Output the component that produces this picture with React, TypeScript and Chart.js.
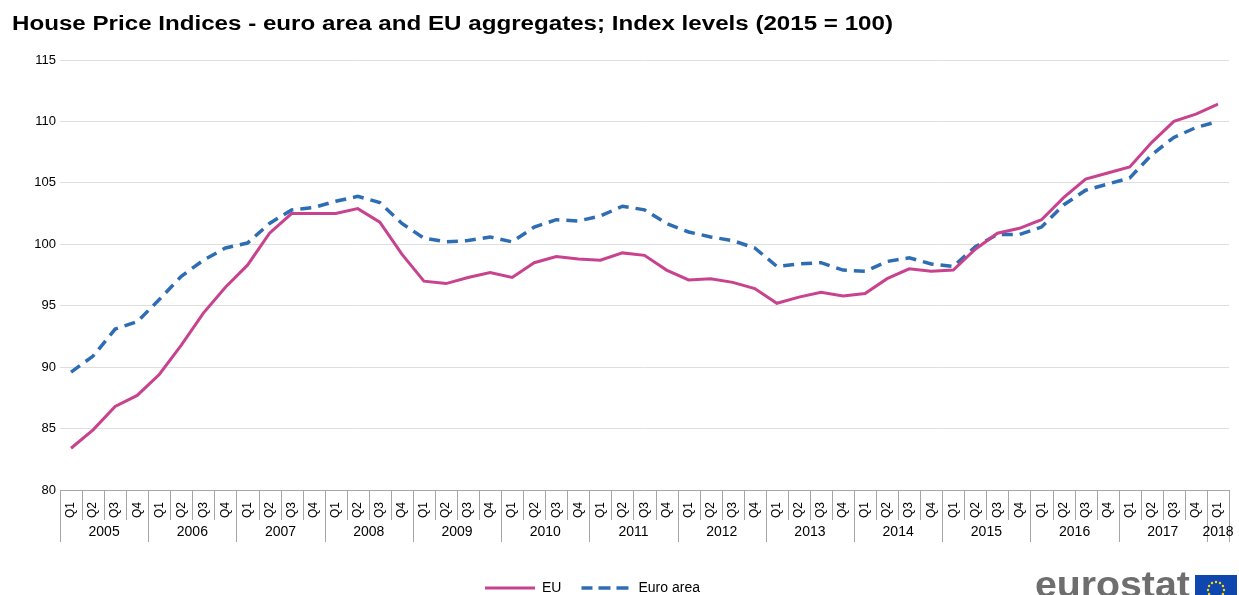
import React, { useEffect, useRef } from "react";
import { Chart, registerables } from "chart.js";

Chart.register(...registerables);

const years = ["2005", "2006", "2007", "2008", "2009", "2010", "2011", "2012", "2013", "2014", "2015", "2016", "2017", "2018"];
const quarters = ["Q1", "Q2", "Q3", "Q4"];
const categories: string[] = years.flatMap((y) => quarters.map((q) => `${y} ${q}`)).slice(0, 53);

const euValues = [
  83.4, 84.9, 86.8, 87.7,
  89.4, 91.8, 94.4, 96.5,
  98.3, 100.9, 102.5, 102.5,
  102.5, 102.9, 101.8, 99.2,
  97.0, 96.8, 97.3, 97.7,
  97.3, 98.5, 99.0, 98.8,
  98.7, 99.3, 99.1, 97.9,
  97.1, 97.2, 96.9, 96.4,
  95.2, 95.7, 96.1, 95.8,
  96.0, 97.2, 98.0, 97.8,
  97.9, 99.6, 100.9, 101.3,
  102.0, 103.8, 105.3, 105.8,
  106.3, 108.3, 110.0, 110.6,
  111.4,
];

const euroAreaValues = [
  89.6, 90.9, 93.1, 93.7,
  95.5, 97.4, 98.7, 99.7,
  100.1, 101.7, 102.8, 103.0,
  103.5, 103.9, 103.4, 101.7,
  100.5, 100.2, 100.3, 100.6,
  100.2, 101.4, 102.0, 101.9,
  102.3, 103.1, 102.8, 101.7,
  101.0, 100.6, 100.3, 99.7,
  98.2, 98.4, 98.5, 97.9,
  97.8, 98.6, 98.9, 98.4,
  98.2, 99.8, 100.8, 100.8,
  101.4, 103.2, 104.4, 104.9,
  105.4, 107.3, 108.7, 109.5,
  110.0,
];

const yMin = 80;
const yMax = 115;
const yStep = 5;

const titleText = "House Price Indices - euro area and EU aggregates; Index levels (2015 = 100)";

const FONT = "'Liberation Sans', Arial, sans-serif";

const axisBoxes = {
  id: "axisBoxes",
  afterLayout(chart: any) {
    const lg = chart.legend;
    if (lg) {
      lg.left -= 28;
      lg.right -= 28;
    }
  },
  afterDraw(chart: any) {
    const { ctx, chartArea, scales } = chart;
    const x = scales.x;
    const labels = chart.data.labels as string[];
    const n = labels.length;
    const step = x.getPixelForValue(1) - x.getPixelForValue(0);
    const top = chartArea.bottom;
    const qBottom = top + 30;
    const yBottom = top + 52;
    const edge = (i: number) => x.getPixelForValue(i) - step / 2;
    ctx.save();

    // title (slightly wide lettering like the reference)
    ctx.fillStyle = "#000";
    ctx.font = `bold 20px ${FONT}`;
    ctx.textAlign = "left";
    ctx.textBaseline = "middle";
    const tw = ctx.measureText(titleText).width;
    ctx.save();
    ctx.translate(12, 24);
    ctx.scale(881 / tw, 1);
    ctx.fillText(titleText, 0, 0);
    ctx.restore();

    ctx.strokeStyle = "#a6a6a6";
    ctx.lineWidth = 1;
    ctx.beginPath();
    ctx.moveTo(edge(0), Math.round(top) + 0.5);
    ctx.lineTo(edge(n), Math.round(top) + 0.5);
    for (let i = 0; i <= n; i++) {
      const px = Math.round(edge(i)) + 0.5;
      const isYear = i === 0 || i === n || labels[i].slice(0, 4) !== labels[i - 1].slice(0, 4);
      ctx.moveTo(px, top);
      ctx.lineTo(px, isYear ? yBottom : qBottom);
    }
    ctx.stroke();

    // year labels
    ctx.fillStyle = "#000";
    ctx.font = `14px ${FONT}`;
    ctx.textAlign = "center";
    ctx.textBaseline = "middle";
    let start = 0;
    for (let i = 1; i <= n; i++) {
      if (i === n || labels[i].slice(0, 4) !== labels[start].slice(0, 4)) {
        const cx = (x.getPixelForValue(start) + x.getPixelForValue(i - 1)) / 2;
        ctx.fillText(labels[start].slice(0, 4), cx, top + 42);
        start = i;
      }
    }

    // eurostat logo
    ctx.save();
    ctx.fillStyle = "#6e6e6e";
    ctx.font = `bold 36px ${FONT}`;
    ctx.textAlign = "left";
    ctx.textBaseline = "alphabetic";
    ctx.translate(1035, 597);
    ctx.scale(1.09, 1);
    ctx.fillText("eurostat", 0, 0);
    ctx.restore();
    ctx.fillStyle = "#0f47af";
    ctx.fillRect(1195, 575, 42, 30);
    ctx.fillStyle = "#ffdd00";
    for (let k = 0; k < 12; k++) {
      const a = (k / 12) * Math.PI * 2;
      ctx.beginPath();
      ctx.arc(1216 + Math.cos(a) * 8, 590 + Math.sin(a) * 8, 1.2, 0, Math.PI * 2);
      ctx.fill();
    }
    ctx.restore();
  },
};

export default function App() {
  const ref = useRef<HTMLCanvasElement | null>(null);
  useEffect(() => {
    if (!ref.current) return;
    const chart = new Chart(ref.current, {
      type: "line",
      data: {
        labels: categories,
        datasets: [
          {
            label: "EU",
            data: euValues,
            borderColor: "#c8428e",
            backgroundColor: "#c8428e",
            borderWidth: 3,
            pointRadius: 0,
            tension: 0,
            fill: false,
          },
          {
            label: "Euro area",
            data: euroAreaValues,
            borderColor: "#2e6db4",
            backgroundColor: "#2e6db4",
            borderWidth: 3.5,
            borderDash: [11, 7],
            pointRadius: 0,
            tension: 0,
            fill: false,
          },
        ],
      },
      options: {
        responsive: false,
        animation: false,
        layout: { padding: { left: 12, right: 10, top: 60, bottom: 0 } },
        plugins: {
          title: { display: false },
          legend: {
            position: "bottom",
            labels: {
              boxWidth: 50,
              boxHeight: 0,
              color: "#000",
              font: { family: FONT, size: 14 },
              padding: 20,
            },
          },
          tooltip: { enabled: false },
        },
        scales: {
          x: {
            type: "category",
            offset: true,
            grid: { display: false },
            border: { display: false },
            ticks: {
              autoSkip: false,
              minRotation: 90,
              maxRotation: 90,
              padding: 4,
              color: "#000",
              font: { family: FONT, size: 12 },
              callback: (_v: any, i: number) => categories[i].split(" ")[1],
            },
            afterFit: (s: any) => {
              s.height = 71;
            },
          },
          y: {
            min: yMin,
            max: yMax,
            ticks: {
              stepSize: yStep,
              padding: 4,
              color: "#000",
              font: { family: FONT, size: 13 },
            },
            grid: { color: "#dedede", drawTicks: false, lineWidth: 1 },
            border: { display: false },
            afterFit: (s: any) => {
              s.width = 48;
            },
          },
        },
      },
      plugins: [axisBoxes],
    });
    return () => chart.destroy();
  }, []);
  return (
    <div style={{ position: "fixed", left: 0, top: 0, width: 1239, height: 605, background: "#fff" }}>
      <canvas ref={ref} width={1239} height={605} style={{ width: 1239, height: 605, display: "block" }} />
    </div>
  );
}
